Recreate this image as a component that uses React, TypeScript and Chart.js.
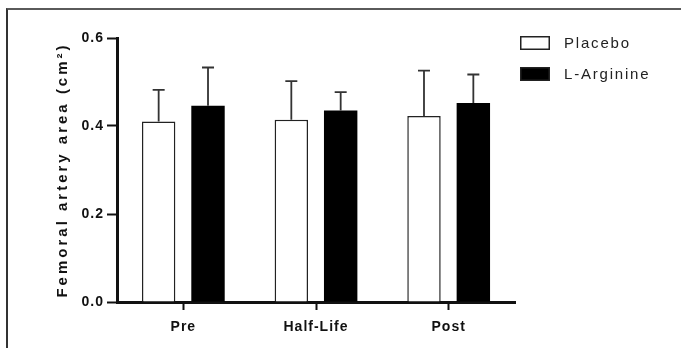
import React, { useEffect, useRef } from "react";
import { Chart, registerables } from "chart.js";

Chart.register(...registerables);

const categories = ["Pre", "Half-Life", "Post"];
const placeboMeans = [0.41, 0.414, 0.423];
const placeboErrors = [0.072, 0.088, 0.103];
const arginineMeans = [0.446, 0.435, 0.452];
const arginineErrors = [0.087, 0.042, 0.065];
const yTicks = [0, 0.2, 0.4, 0.6];
const seriesLabels = ["Placebo", "L-Arginine"];
const yTitle = "Femoral artery area (cm\u00B2)";

const FONT = "'Liberation Sans', Arial, sans-serif";

const errorBarPlugin = {
  id: "errorBars",
  afterDatasetsDraw(chart: any) {
    const ctx = chart.ctx;
    const yScale = chart.scales.y;
    const errs = [placeboErrors, arginineErrors];
    ctx.save();
    ctx.strokeStyle = "#333";
    ctx.lineWidth = 1.8;
    chart.data.datasets.forEach((ds: any, di: number) => {
      const meta = chart.getDatasetMeta(di);
      meta.data.forEach((bar: any, i: number) => {
        const v = ds.data[i];
        const top = yScale.getPixelForValue(v + errs[di][i]);
        const base = yScale.getPixelForValue(v);
        ctx.beginPath();
        ctx.moveTo(bar.x, base);
        ctx.lineTo(bar.x, top);
        ctx.moveTo(bar.x - 6, top);
        ctx.lineTo(bar.x + 6, top);
        ctx.stroke();
      });
    });
    ctx.restore();
  },
};

const spacingPlugin = {
  id: "spacing",
  beforeUpdate(chart: any) {
    chart.ctx.letterSpacing = "1px";
  },
  beforeDraw(chart: any) {
    chart.ctx.letterSpacing = "1px";
  },
};

const titleLegendPlugin = {
  id: "titleLegend",
  afterDraw(chart: any) {
    const ctx = chart.ctx;
    const area = chart.chartArea;
    // y axis title
    ctx.save();
    ctx.translate(62.5, (area.top + area.bottom) / 2);
    ctx.rotate(-Math.PI / 2);
    ctx.font = `bold 15px ${FONT}`;
    ctx.letterSpacing = "3px";
    ctx.fillStyle = "#111";
    ctx.textAlign = "center";
    ctx.textBaseline = "middle";
    ctx.fillText(yTitle, 0, 0);
    ctx.restore();

    // legend
    ctx.save();
    ctx.font = `15px ${FONT}`;
    ctx.letterSpacing = "1.8px";
    ctx.textBaseline = "middle";
    ctx.textAlign = "left";
    chart.data.datasets.forEach((ds: any, i: number) => {
      const x = area.right + 5;
      const y = 36 + i * 31;
      ctx.fillStyle = ds.backgroundColor;
      ctx.fillRect(x, y, 30, 14);
      ctx.strokeStyle = "#222";
      ctx.lineWidth = 1.5;
      ctx.strokeRect(x + 0.75, y + 0.75, 28.5, 12.5);
      ctx.fillStyle = "#222";
      ctx.fillText(ds.label, x + 44, y + 7.5);
    });
    ctx.restore();
  },
};

export default function App() {
  const ref = useRef<HTMLCanvasElement>(null);
  useEffect(() => {
    document.body.style.margin = "0";
    const canvas = ref.current!;
    const chart = new Chart(canvas, {
      type: "bar",
      data: {
        labels: categories,
        datasets: [
          {
            label: seriesLabels[0],
            data: placeboMeans,
            backgroundColor: "#ffffff",
            borderColor: "#222",
            borderWidth: 1.5,
            categoryPercentage: 0.744,
            barPercentage: 0.677,
          },
          {
            label: seriesLabels[1],
            data: arginineMeans,
            backgroundColor: "#000000",
            borderColor: "#000000",
            borderWidth: 0,
            categoryPercentage: 0.744,
            barPercentage: 0.677,
          },
        ],
      },
      options: {
        animation: false,
        responsive: false,
        maintainAspectRatio: false,
        layout: { padding: { left: 0, top: 38, right: 166, bottom: 0 } },
        plugins: {
          legend: { display: false },
          tooltip: { enabled: false },
        },
        scales: {
          x: {
            afterFit: (s: any) => {
              s.height = 46;
            },
            grid: {
              offset: false,
              drawOnChartArea: false,
              drawTicks: true,
              tickLength: 8,
              tickWidth: 2,
              tickColor: "#111",
            },
            border: { display: true, width: 3, color: "#111" },
            ticks: {
              font: { family: FONT, size: 14, weight: "bold" },
              color: "#111",
              padding: 9,
            },
          },
          y: {
            min: 0,
            max: 0.6,
            afterFit: (s: any) => {
              s.width = 117;
            },
            afterBuildTicks: (s: any) => {
              s.ticks = yTicks.map((v) => ({ value: v }));
            },
            grid: {
              drawOnChartArea: false,
              drawTicks: true,
              tickLength: 10,
              tickWidth: 2,
              tickColor: "#111",
            },
            border: { display: true, width: 3, color: "#111" },
            ticks: {
              font: { family: FONT, size: 14, weight: "bold" },
              color: "#111",
              padding: 3,
              callback: (v: any) => Number(v).toFixed(1),
            },
          },
        },
      },
      plugins: [spacingPlugin, errorBarPlugin, titleLegendPlugin],
    });
    return () => chart.destroy();
  }, []);

  return (
    <div
      style={{
        position: "absolute",
        left: 0,
        top: 0,
        width: 681,
        height: 348,
        background: "#fff",
        overflow: "hidden",
      }}
    >
      <div
        style={{
          position: "absolute",
          left: 6,
          top: 8,
          width: 675,
          height: 340,
          borderTop: "2px solid #5a5a5a",
          borderLeft: "2px solid #333",
          boxSizing: "border-box",
        }}
      />
      <canvas
        ref={ref}
        width={681}
        height={348}
        style={{ position: "absolute", left: 0, top: 0, width: 681, height: 348 }}
      />
    </div>
  );
}
